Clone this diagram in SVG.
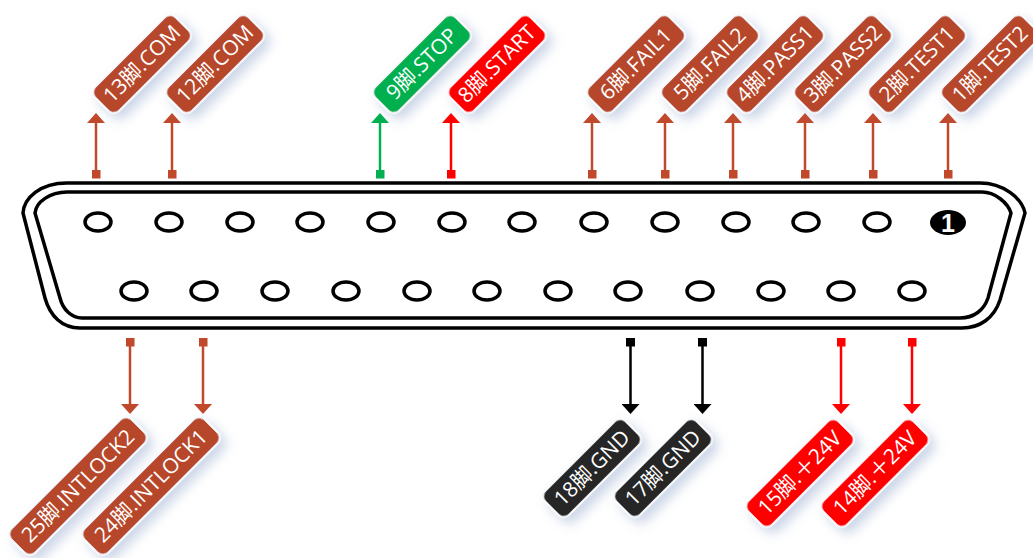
<svg xmlns="http://www.w3.org/2000/svg" width="1033" height="558" viewBox="0 0 1033 558">
<style>
.lb{stroke:#f8fafd;stroke-width:2;filter:url(#sh)}
.lt{font-family:"Open Sans","Noto Sans CJK SC",sans-serif;font-size:21px;fill:#fff;text-anchor:middle}
.br{fill:#B7472A}.gr{fill:#00B050}.rd{fill:#FF0000}.bk{fill:#262626}
.pin{fill:#fff;stroke:#000;stroke-width:3.5}
.shell{fill:none;stroke:#000;stroke-width:3.5}
.c{fill:none;stroke-width:2.5}
</style>
<defs>
<filter id="sh" x="-30%" y="-90%" width="160%" height="300%"><feDropShadow dx="0" dy="8" stdDeviation="6" flood-color="#7f97c4" flood-opacity="0.4"/></filter>
<marker id="ab" markerUnits="userSpaceOnUse" markerWidth="10" markerHeight="18" refX="1" refY="9" orient="auto" viewBox="0 0 10 18"><path d="M0 0L10 9L0 18Z" fill="#C0492C"/></marker>
<marker id="ag" markerUnits="userSpaceOnUse" markerWidth="10" markerHeight="18" refX="1" refY="9" orient="auto" viewBox="0 0 10 18"><path d="M0 0L10 9L0 18Z" fill="#00B050"/></marker>
<marker id="ar" markerUnits="userSpaceOnUse" markerWidth="10" markerHeight="18" refX="1" refY="9" orient="auto" viewBox="0 0 10 18"><path d="M0 0L10 9L0 18Z" fill="#FF0000"/></marker>
<marker id="ak" markerUnits="userSpaceOnUse" markerWidth="10" markerHeight="18" refX="1" refY="9" orient="auto" viewBox="0 0 10 18"><path d="M0 0L10 9L0 18Z" fill="#000"/></marker>
<marker id="sb" markerUnits="userSpaceOnUse" markerWidth="9" markerHeight="9" refX="4.5" refY="4.5" viewBox="0 0 9 9"><rect width="9" height="9" fill="#C0492C"/></marker>
<marker id="sg" markerUnits="userSpaceOnUse" markerWidth="9" markerHeight="9" refX="4.5" refY="4.5" viewBox="0 0 9 9"><rect width="9" height="9" fill="#00B050"/></marker>
<marker id="sr" markerUnits="userSpaceOnUse" markerWidth="9" markerHeight="9" refX="4.5" refY="4.5" viewBox="0 0 9 9"><rect width="9" height="9" fill="#FF0000"/></marker>
<marker id="sk" markerUnits="userSpaceOnUse" markerWidth="9" markerHeight="9" refX="4.5" refY="4.5" viewBox="0 0 9 9"><rect width="9" height="9" fill="#000"/></marker>
</defs>
<rect width="1033" height="558" fill="#fff"/>
<g id="connector-shell">
<path class="shell" d="M67 183H980C1003 183 1022 198 1025 213L1000 300C994 318 980 328 962 328H80C62 328 50 316 45 298L23 213C24 198 40 183 67 183Z"/>
<path class="shell" d="M67 192H982C995 192 1008 203 1011 213L988 298C984 310 974 318 960 318H82C72 318 63 310 60 298L35 213C36 202 50 192 67 192Z"/>
</g>
<g id="pins">
<g id="pin-1"><ellipse cx="948" cy="222.500" rx="18" ry="12.500" fill="#000"/><text x="948" y="231.500" font-family="'Liberation Sans',sans-serif" font-size="25" font-weight="bold" fill="#fff" text-anchor="middle">1</text></g>
<g id="pin-2"><ellipse class="pin" cx="877" cy="222" rx="13" ry="9"/></g>
<g id="pin-3"><ellipse class="pin" cx="806" cy="222" rx="13" ry="9"/></g>
<g id="pin-4"><ellipse class="pin" cx="736" cy="222" rx="13" ry="9"/></g>
<g id="pin-5"><ellipse class="pin" cx="665" cy="222" rx="13" ry="9"/></g>
<g id="pin-6"><ellipse class="pin" cx="594" cy="222" rx="13" ry="9"/></g>
<g id="pin-7"><ellipse class="pin" cx="522" cy="222" rx="13" ry="9"/></g>
<g id="pin-8"><ellipse class="pin" cx="452" cy="222" rx="13" ry="9"/></g>
<g id="pin-9"><ellipse class="pin" cx="381" cy="222" rx="13" ry="9"/></g>
<g id="pin-10"><ellipse class="pin" cx="310" cy="222" rx="13" ry="9"/></g>
<g id="pin-11"><ellipse class="pin" cx="240" cy="222" rx="13" ry="9"/></g>
<g id="pin-12"><ellipse class="pin" cx="169" cy="222" rx="13" ry="9"/></g>
<g id="pin-13"><ellipse class="pin" cx="98" cy="222" rx="13" ry="9"/></g>
<g id="pin-14"><ellipse class="pin" cx="912" cy="291" rx="13" ry="9"/></g>
<g id="pin-15"><ellipse class="pin" cx="841" cy="291" rx="13" ry="9"/></g>
<g id="pin-16"><ellipse class="pin" cx="771" cy="291" rx="13" ry="9"/></g>
<g id="pin-17"><ellipse class="pin" cx="700" cy="291" rx="13" ry="9"/></g>
<g id="pin-18"><ellipse class="pin" cx="628" cy="291" rx="13" ry="9"/></g>
<g id="pin-19"><ellipse class="pin" cx="558" cy="291" rx="13" ry="9"/></g>
<g id="pin-20"><ellipse class="pin" cx="487" cy="291" rx="13" ry="9"/></g>
<g id="pin-21"><ellipse class="pin" cx="417" cy="291" rx="13" ry="9"/></g>
<g id="pin-22"><ellipse class="pin" cx="346" cy="291" rx="13" ry="9"/></g>
<g id="pin-23"><ellipse class="pin" cx="275" cy="291" rx="13" ry="9"/></g>
<g id="pin-24"><ellipse class="pin" cx="204" cy="291" rx="13" ry="9"/></g>
<g id="pin-25"><ellipse class="pin" cx="134" cy="291" rx="13" ry="9"/></g>
</g>
<g id="connectors">
<path class="c" stroke="#C0492C" marker-start="url(#sb)" marker-end="url(#ab)" d="M96 174V122"/>
<path class="c" stroke="#C0492C" marker-start="url(#sb)" marker-end="url(#ab)" d="M172 174V122"/>
<path class="c" stroke="#00B050" marker-start="url(#sg)" marker-end="url(#ag)" d="M380 174V122"/>
<path class="c" stroke="#FF0000" marker-start="url(#sr)" marker-end="url(#ar)" d="M451 174V122"/>
<path class="c" stroke="#C0492C" marker-start="url(#sb)" marker-end="url(#ab)" d="M592 174V122"/>
<path class="c" stroke="#C0492C" marker-start="url(#sb)" marker-end="url(#ab)" d="M665 174V122"/>
<path class="c" stroke="#C0492C" marker-start="url(#sb)" marker-end="url(#ab)" d="M733 174V122"/>
<path class="c" stroke="#C0492C" marker-start="url(#sb)" marker-end="url(#ab)" d="M805 174V122"/>
<path class="c" stroke="#C0492C" marker-start="url(#sb)" marker-end="url(#ab)" d="M873 174V122"/>
<path class="c" stroke="#C0492C" marker-start="url(#sb)" marker-end="url(#ab)" d="M948 174V122"/>
<path class="c" stroke="#C0492C" marker-start="url(#sb)" marker-end="url(#ab)" d="M130 342V405"/>
<path class="c" stroke="#C0492C" marker-start="url(#sb)" marker-end="url(#ab)" d="M203 342V405"/>
<path class="c" stroke="#000" marker-start="url(#sk)" marker-end="url(#ak)" d="M630.500 342V405"/>
<path class="c" stroke="#000" marker-start="url(#sk)" marker-end="url(#ak)" d="M702.500 342V405"/>
<path class="c" stroke="#FF0000" marker-start="url(#sr)" marker-end="url(#ar)" d="M841 342V405"/>
<path class="c" stroke="#FF0000" marker-start="url(#sr)" marker-end="url(#ar)" d="M912 342V405"/>
</g>
<g id="label-13" transform="translate(142 64) rotate(-45)"><rect class="lb br" x="-57" y="-17" width="114" height="34" rx="8"/><text class="lt" y="7">13脚.COM</text></g>
<g id="label-12" transform="translate(215 64) rotate(-45)"><rect class="lb br" x="-57" y="-17" width="114" height="34" rx="8"/><text class="lt" y="7">12脚.COM</text></g>
<g id="label-9" transform="translate(422 64) rotate(-45)"><rect class="lb gr" x="-57" y="-17" width="114" height="34" rx="8"/><text class="lt" y="7">9脚.STOP</text></g>
<g id="label-8" transform="translate(497 64) rotate(-45)"><rect class="lb rd" x="-57" y="-17" width="114" height="34" rx="8"/><text class="lt" y="7">8脚.START</text></g>
<g id="label-6" transform="translate(636 64) rotate(-45)"><rect class="lb br" x="-57" y="-17" width="114" height="34" rx="8"/><text class="lt" y="7">6脚.FAIL1</text></g>
<g id="label-5" transform="translate(710 64) rotate(-45)"><rect class="lb br" x="-57" y="-17" width="114" height="34" rx="8"/><text class="lt" y="7">5脚.FAIL2</text></g>
<g id="label-4" transform="translate(775 64) rotate(-45)"><rect class="lb br" x="-57" y="-17" width="114" height="34" rx="8"/><text class="lt" y="7">4脚.PASS1</text></g>
<g id="label-3" transform="translate(843 64) rotate(-45)"><rect class="lb br" x="-57" y="-17" width="114" height="34" rx="8"/><text class="lt" y="7">3脚.PASS2</text></g>
<g id="label-2" transform="translate(917 64) rotate(-45)"><rect class="lb br" x="-57" y="-17" width="114" height="34" rx="8"/><text class="lt" y="7">2脚.TEST1</text></g>
<g id="label-1" transform="translate(990 64) rotate(-45)"><rect class="lb br" x="-57" y="-17" width="114" height="34" rx="8"/><text class="lt" y="7">1脚.TEST2</text></g>
<g id="label-25" transform="translate(78 486) rotate(-45)"><rect class="lb br" x="-85" y="-17" width="170" height="34" rx="8"/><text class="lt" y="7">25脚.INTLOCK2</text></g>
<g id="label-24" transform="translate(151 486) rotate(-45)"><rect class="lb br" x="-85" y="-17" width="170" height="34" rx="8"/><text class="lt" y="7">24脚.INTLOCK1</text></g>
<g id="label-18" transform="translate(592 468) rotate(-45)"><rect class="lb bk" x="-57" y="-17" width="114" height="34" rx="8"/><text class="lt" y="7">18脚.GND</text></g>
<g id="label-17" transform="translate(663 468) rotate(-45)"><rect class="lb bk" x="-57" y="-17" width="114" height="34" rx="8"/><text class="lt" y="7">17脚.GND</text></g>
<g id="label-15" transform="translate(800 473) rotate(-45)"><rect class="lb rd" x="-64" y="-17" width="128" height="34" rx="8"/><text class="lt" y="7">15脚.＋24V</text></g>
<g id="label-14" transform="translate(875 473) rotate(-45)"><rect class="lb rd" x="-64" y="-17" width="128" height="34" rx="8"/><text class="lt" y="7">14脚.＋24V</text></g>
</svg>
